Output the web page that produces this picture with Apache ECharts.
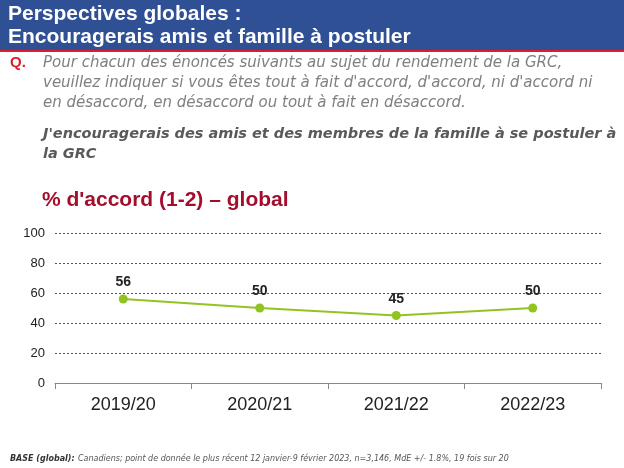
<!DOCTYPE html>
<html>
<head>
<meta charset="utf-8">
<script src="https://cdn.jsdelivr.net/npm/echarts@6/dist/echarts.min.js"></script>
<style>
  html, body { margin: 0; padding: 0; background: #fff; }
  #chart { width: 624px; height: 468px; }
</style>
</head>
<body>
<div id="chart"></div>
<script>
  // données du graphique
  const categories = ['2019/20', '2020/21', '2021/22', '2022/23']
  const accord = [56, 50, 45, 50]
  const yTicks = [0, 20, 40, 60, 80, 100]

  const chart = echarts.init(document.getElementById('chart'))

  const grey = '#808080'
  const option = {
    animation: false,
    graphic: [
      { type: 'rect', shape: { x: 0, y: 0, width: 624, height: 50 }, style: { fill: '#2f5095' } },
      { type: 'rect', shape: { x: 0, y: 50, width: 624, height: 2 }, style: { fill: '#d9202a' } },
      {
        type: 'text', left: 8, top: 3,
        style: { text: 'Perspectives globales :\nEncouragerais amis et famille à postuler', fill: '#fff', font: 'bold 21px "Liberation Sans", Arial', lineHeight: 23 }
      },
      { type: 'text', left: 10, top: 55, style: { text: 'Q.', fill: '#d9202a', font: 'bold 15px "Liberation Sans", Arial' } },
      {
        type: 'text', left: 43, top: 53,
        style: {
          text: "Pour chacun des énoncés suivants au sujet du rendement de la GRC,\nveuillez indiquer si vous êtes tout à fait d'accord, d'accord, ni d'accord ni\nen désaccord, en désaccord ou tout à fait en désaccord.",
          fill: grey, font: 'italic 15px "DejaVu Sans"', lineHeight: 20
        }
      },
      {
        type: 'text', left: 43, top: 124,
        style: {
          text: "J'encouragerais des amis et des membres de la famille à se postuler à\nla GRC",
          fill: '#595959', font: 'italic bold 14.5px "DejaVu Sans"', lineHeight: 20
        }
      },
      { type: 'text', left: 42, top: 190, style: { text: "% d'accord (1-2) – global", fill: '#a50d2d', font: 'bold 21px "Liberation Sans", Arial' } },
      {
        type: 'text', left: 10, top: 453,
        style: {
          rich: {
            b: { font: 'italic bold 8px "DejaVu Sans"', fill: '#333' },
            n: { font: 'italic 8px "DejaVu Sans"', fill: '#555' }
          },
          text: '{b|BASE (global):} {n|Canadiens; point de donnée le plus récent 12 janvier-9 février 2023, n=3,146, MdE +/- 1.8%, 19 fois sur 20}'
        }
      }
    ],
    grid: { left: 55, right: 23, top: 233, bottom: 85 },
    xAxis: {
      type: 'category',
      data: categories,
      boundaryGap: true,
      axisLine: { lineStyle: { color: '#888' } },
      axisTick: { show: true, length: 6, lineStyle: { color: '#888' } },
      axisLabel: { color: '#222', fontSize: 18, fontFamily: 'Liberation Sans', margin: 13 }
    },
    yAxis: {
      type: 'value',
      min: yTicks[0],
      max: yTicks[yTicks.length - 1],
      interval: 20,
      axisLine: { show: false },
      axisTick: { show: false },
      axisLabel: { color: '#222', fontSize: 13, fontFamily: 'Liberation Sans', margin: 10 },
      splitLine: { lineStyle: { color: '#555', type: [2, 2], width: 1 } }
    },
    series: [{
      type: 'line',
      data: accord,
      symbol: 'circle',
      symbolSize: 9,
      lineStyle: { color: '#92c41f', width: 2 },
      itemStyle: { color: '#92c41f' },
      label: { show: true, position: 'top', distance: 5, color: '#222', fontWeight: 'bold', fontSize: 14, fontFamily: 'Liberation Sans' }
    }]
  }

  chart.setOption(option)
</script>
</body>
</html>
